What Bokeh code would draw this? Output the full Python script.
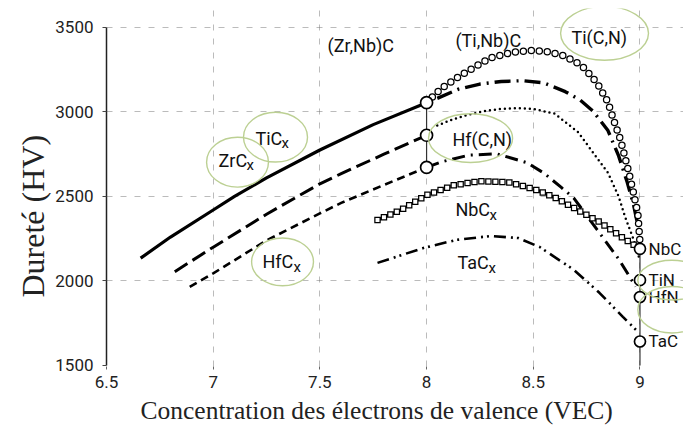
import math
from bokeh.plotting import figure
from bokeh.models import FixedTicker, Range1d, Title
from bokeh.core.properties import value
from bokeh.embed import file_html
from bokeh.resources import INLINE

# ---------------- data ----------------
# ZrCx -> (Zr,Nb)C  (solid)
zrc_x = [6.66, 6.8, 7.0, 7.1, 7.25, 7.5, 7.75, 8.0]
zrc_y = [2135, 2260, 2420, 2500, 2610, 2775, 2925, 3055]
# TiCx (long dashes)
tic_x = [6.82, 7.0, 7.25, 7.5, 7.6, 7.8, 8.0]
tic_y = [2055, 2200, 2395, 2575, 2635, 2750, 2862]
# HfCx (short dashes)
hfc_x = [6.89, 7.0, 7.25, 7.5, 7.6, 7.8, 8.0]
hfc_y = [1965, 2045, 2240, 2400, 2462, 2568, 2672]
# Ti(C,N) (open circles)
tcn_x = [8.0, 8.07, 8.14, 8.22, 8.30, 8.40, 8.49, 8.57, 8.64, 8.70, 8.74, 8.80, 8.85, 8.88, 8.91, 8.93, 8.95, 8.97, 8.99, 9.0]
tcn_y = [3055, 3140, 3200, 3262, 3320, 3352, 3364, 3356, 3333, 3295, 3258, 3170, 3057, 2940, 2830, 2730, 2630, 2520, 2400, 2230]
# (Ti,Nb)C (heavy dash-dot)
tnc_x = [8.05, 8.15, 8.25, 8.35, 8.45, 8.55, 8.65, 8.72, 8.78, 8.85, 8.90, 8.94, 8.97, 8.99]
tnc_y = [3080, 3135, 3165, 3180, 3185, 3172, 3120, 3070, 3005, 2890, 2740, 2585, 2450, 2330]
# dotted curve
dot_x = [8.05, 8.12, 8.19, 8.27, 8.35, 8.42, 8.50, 8.60, 8.71, 8.78, 8.85, 8.90, 8.93, 8.97, 9.0]
dot_y = [2920, 2955, 2982, 3005, 3018, 3022, 3018, 2990, 2880, 2760, 2640, 2500, 2380, 2245, 2120]
# Hf(C,N) (dash-dot)
hcn_x = [8.0, 8.07, 8.2, 8.33, 8.47, 8.55, 8.63, 8.69, 8.74, 8.80, 8.90, 8.98]
hcn_y = [2672, 2705, 2745, 2752, 2700, 2638, 2555, 2490, 2405, 2302, 2130, 1967]
# NbCx (open squares)
nbc_x = [7.77, 7.88, 8.0, 8.13, 8.25, 8.38, 8.5, 8.6, 8.69, 8.81, 8.92, 9.0]
nbc_y = [2361, 2420, 2508, 2567, 2591, 2585, 2545, 2495, 2432, 2349, 2255, 2190]
# TaCx (dash-dot-dot)
tac_x = [7.77, 7.985, 8.14, 8.3, 8.43, 8.53, 8.69, 8.81, 8.92, 8.99]
tac_y = [2107, 2195, 2243, 2266, 2254, 2201, 2066, 1930, 1788, 1700]

# end-point compounds
vec8_y = [3055, 2862, 2672]
vec9_names = ["NbC", "TiN", "HfN", "TaC"]
vec9_y = [2190, 2005, 1905, 1642]

x_ticks = [6.5, 7, 7.5, 8, 8.5, 9]
y_ticks = [1500, 2000, 2500, 3000, 3500]

# curve labels (text, x, y)
lab_text = ["(Zr,Nb)C", "(Ti,Nb)C", "Ti(C,N)", "Hf(C,N)"]
lab_x = [7.536, 8.135, 8.679, 8.121]
lab_y = [3394, 3423, 3441, 2839]
sub_text = ["TiC", "ZrC", "HfC", "NbC", "TaC"]
sub_x = [7.198, 7.025, 7.231, 8.135, 8.145]
sub_y = [2845, 2715, 2113, 2420, 2107]
sub_off = [26, 28, 31, 34, 31]

# highlight ellipses (x, y, w, h)
ell_x = [7.292, 7.114, 7.325, 8.206, 8.834, 9.15, 9.15]
ell_y = [2851, 2703, 2113, 2845, 3465, 2005, 1830]
ell_w = [0.30, 0.29, 0.29, 0.394, 0.412, 0.32, 0.32]
ell_h = [295, 295, 283, 289, 319, 235, 275]

# ---------------- figure ----------------
W, H = 683, 437
p = figure(width=W, height=H, output_backend="svg", toolbar_location=None,
           x_range=Range1d(6.5, 9.204), y_range=Range1d(1494, 3612),
           min_border_left=106, min_border_right=0, min_border_top=8,
           min_border_bottom=71)
p.outline_line_color = None
p.background_fill_color = "white"
p.border_fill_color = "white"

# grid
p.xgrid.ticker = FixedTicker(ticks=[7, 7.5, 8, 8.5, 9])
p.ygrid.ticker = FixedTicker(ticks=[2000, 2500, 3000, 3500])
for g in (p.xgrid, p.ygrid):
    g.grid_line_color = "#777777"
    g.grid_line_alpha = 0.5
    g.grid_line_dash = "6 8"
    g.grid_line_width = 1

# axes
p.xaxis.ticker = FixedTicker(ticks=x_ticks)
p.yaxis.ticker = FixedTicker(ticks=y_ticks)
p.yaxis.bounds = (1500, 3500)
p.xaxis.axis_line_color = None
p.xaxis.major_tick_out = 3
p.xaxis.major_tick_in = 0
p.xaxis.major_tick_line_color = "#666666"
p.xaxis.minor_tick_line_color = None
p.xaxis.major_label_standoff = 6
p.yaxis.axis_line_color = "#222222"
p.yaxis.axis_line_width = 1.5
p.yaxis.major_tick_out = 4
p.yaxis.major_tick_in = 0
p.yaxis.major_tick_line_color = "#444444"
p.yaxis.minor_tick_line_color = None
p.yaxis.major_label_standoff = 9
for ax in (p.xaxis, p.yaxis):
    ax.major_label_text_font = "Roboto"
    ax.major_label_text_font_size = "17px"
    ax.major_label_text_color = "#222222"

# connecting vertical lines at VEC 8 and 9
p.segment(x0=[8], y0=[min(vec8_y)], x1=[8], y1=[max(vec8_y)], line_color="#333333", line_width=1.2)
p.segment(x0=[9], y0=[1500], x1=[9], y1=[max(vec9_y)], line_color="#333333", line_width=1.2)

# curves
p.line(zrc_x, zrc_y, line_color="black", line_width=3.2)
p.line(tic_x, tic_y, line_color="black", line_width=3, line_dash="15 6")
p.line(hfc_x, hfc_y, line_color="black", line_width=2.6, line_dash="8 5")
p.line(tnc_x, tnc_y, line_color="black", line_width=3.4, line_dash="16 6 2 6")
p.line(dot_x, dot_y, line_color="black", line_width=2.5, line_dash="0 5", line_cap="round")
p.line(hcn_x, hcn_y, line_color="black", line_width=3, line_dash="13 6 2 6")
p.line(tac_x, tac_y, line_color="black", line_width=2.6, line_dash="12 5 2 4 2 5")

# ring-marker curve Ti(C,N)
p.line(tcn_x, tcn_y, line_color="black", line_width=7.5, line_dash="0 8", line_cap="round")
p.line(tcn_x, tcn_y, line_color="white", line_width=5, line_dash="0 8", line_cap="round")
# square-marker curve NbCx
p.line(nbc_x, nbc_y, line_color="black", line_width=6.5, line_dash="0 7", line_cap="square")
p.line(nbc_x, nbc_y, line_color="white", line_width=4, line_dash="0 7", line_cap="square")

# end markers
p.scatter([8] * len(vec8_y), vec8_y, marker="circle", size=12, fill_color="white",
          line_color="black", line_width=1.7)
p.scatter([9] * len(vec9_y), vec9_y, marker="circle", size=11, fill_color="white",
          line_color="black", line_width=1.7)

# labels
font = value("Roboto")
p.text(lab_x, lab_y, text=lab_text, text_font=font, text_font_size="18px",
       text_baseline="middle", text_align="left", text_color="#111111")
p.text(sub_x, sub_y, text=sub_text, text_font=font, text_font_size="18px",
       text_baseline="middle", text_align="left", text_color="#111111")
for sx, sy, so in zip(sub_x, sub_y, sub_off):
    p.text([sx], [sy], text=["x"], text_font=font, text_font_size="15px",
           text_baseline="middle", text_align="left", text_color="#111111",
           x_offset=so, y_offset=5)
p.text([9.04] * len(vec9_y), vec9_y, text=vec9_names, text_font=font,
       text_font_size="17px", text_baseline="middle", text_align="left",
       text_color="#111111")

# highlight ellipses
p.ellipse(ell_x, ell_y, width=ell_w, height=ell_h, fill_color=None,
          line_color="#bcd093", line_width=1.4)

# axis titles
p.add_layout(Title(text="Concentration des électrons de valence (VEC)", align="left",
                   offset=34, text_font="Liberation Serif", text_font_size="25.5px",
                   text_font_style="normal", text_color="#222222", standoff=6), "below")
p.add_layout(Title(text="Dureté  (HV)", align="left", offset=69,
                   text_font="Liberation Serif", text_font_size="32px",
                   text_font_style="normal", text_color="#222222", standoff=4), "left")

open("out.html", "w").write(file_html(p, INLINE))
